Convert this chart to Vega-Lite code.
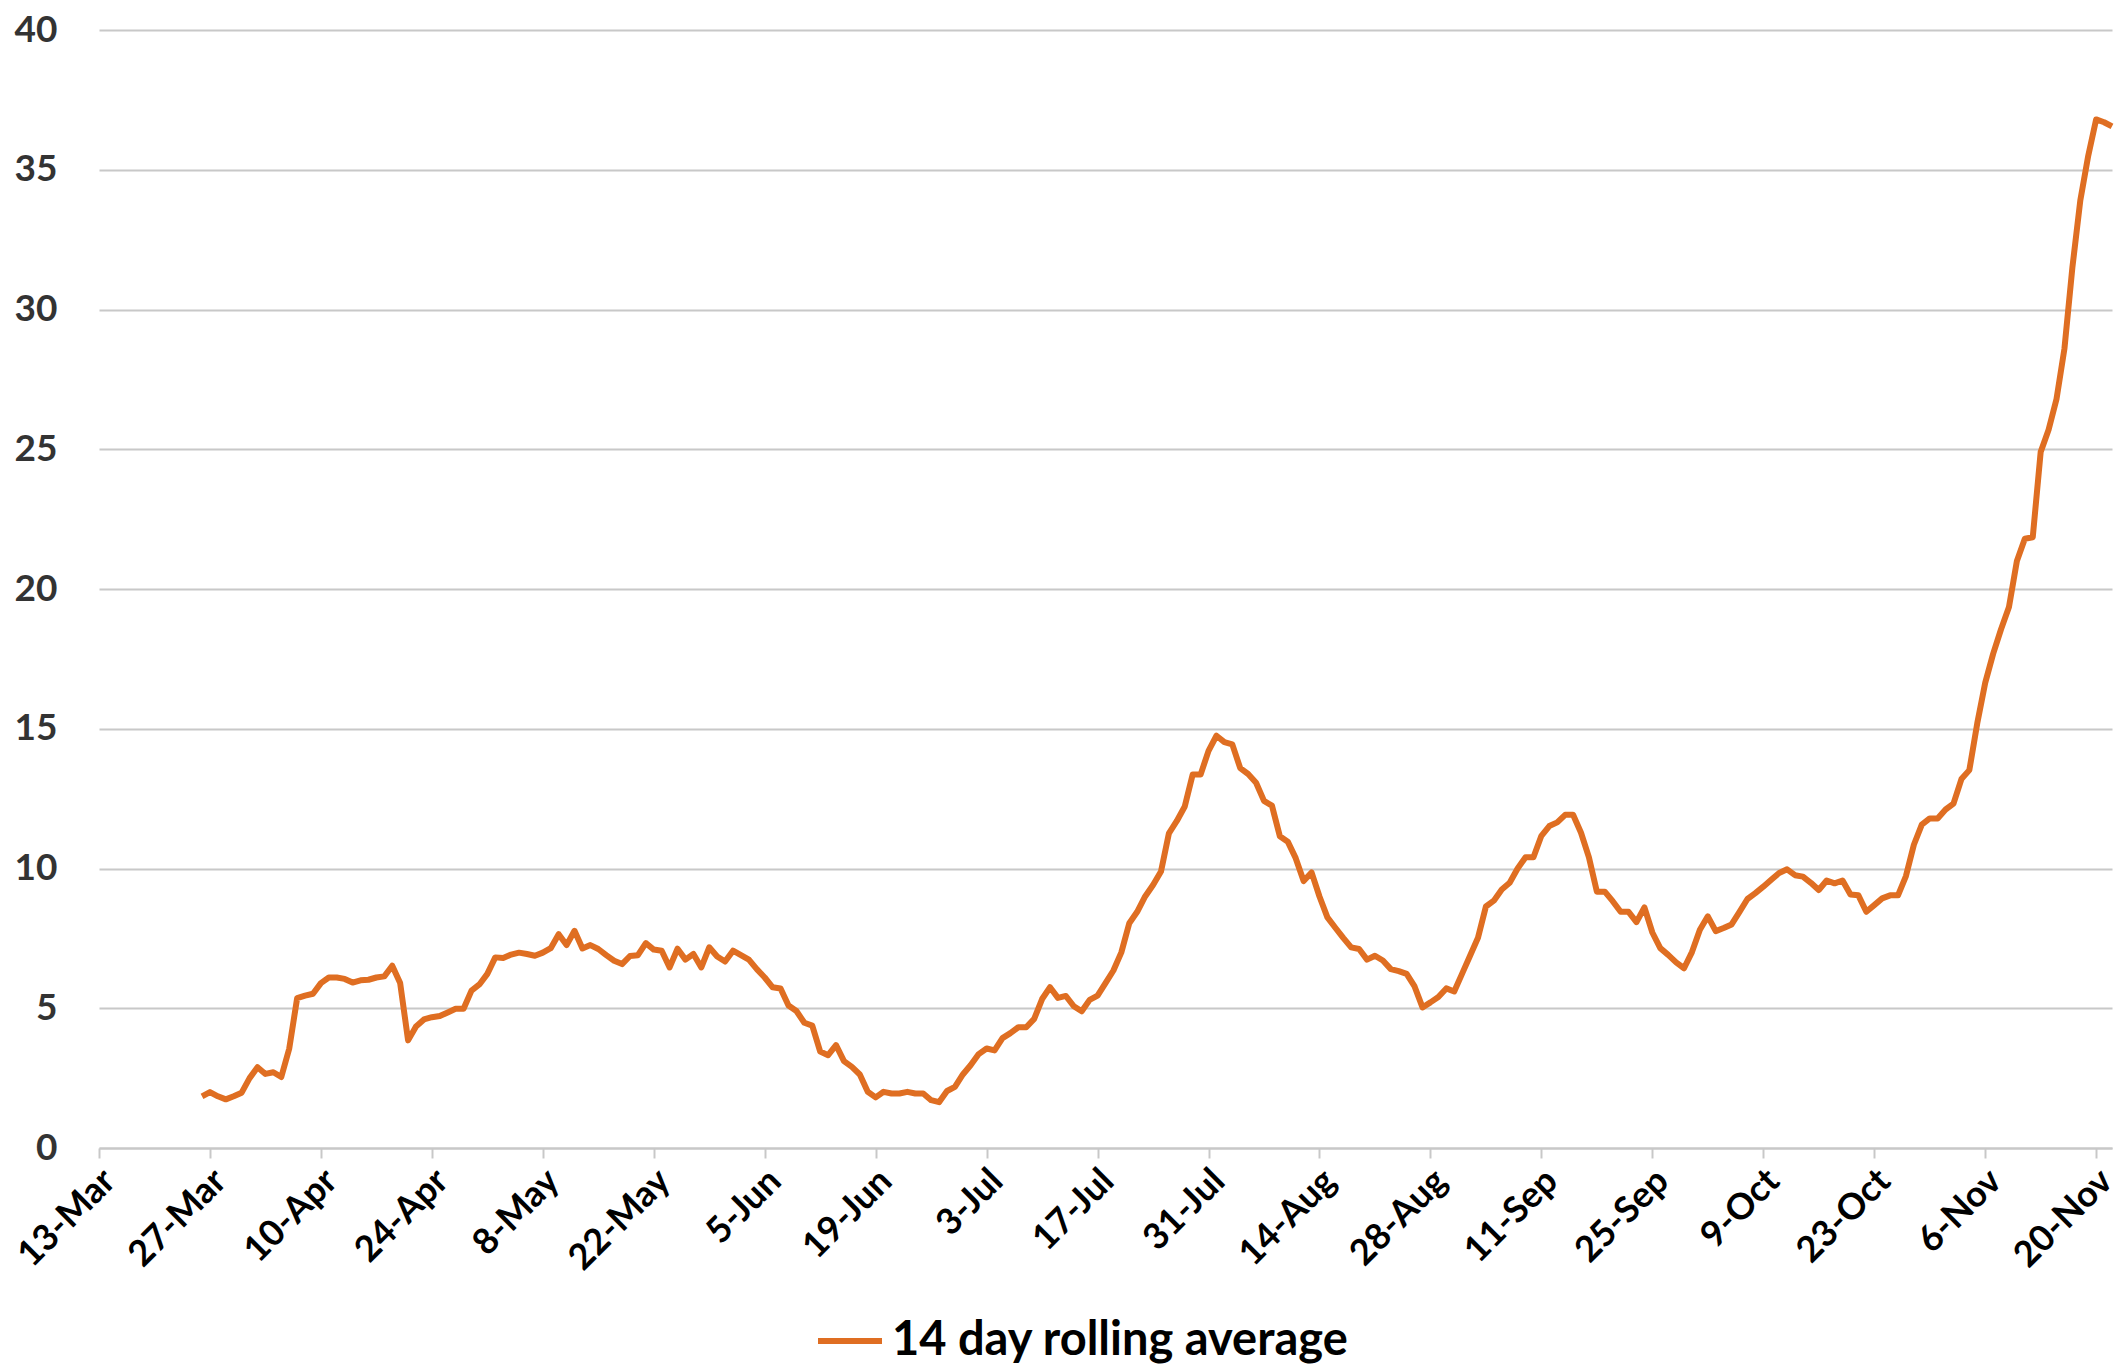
{
  "$schema": "https://vega.github.io/schema/vega-lite/v6.json",
  "width": 2013,
  "height": 1118,
  "autosize": {"type": "none"},
  "padding": {"left": 99, "top": 30, "right": 8, "bottom": 224},
  "background": "white",
  "config": {"view": {"stroke": null}, "font": "Lato"},
  "data": {
    "format": {"parse": {"date": "date:'%Y-%m-%d'"}},
    "values": [
      {"date": "2020-03-26", "value": 1.85},
      {"date": "2020-03-27", "value": 2.0},
      {"date": "2020-03-28", "value": 1.85},
      {"date": "2020-03-29", "value": 1.74},
      {"date": "2020-03-30", "value": 1.85},
      {"date": "2020-03-31", "value": 1.98},
      {"date": "2020-04-01", "value": 2.5},
      {"date": "2020-04-02", "value": 2.89},
      {"date": "2020-04-03", "value": 2.65},
      {"date": "2020-04-04", "value": 2.71},
      {"date": "2020-04-05", "value": 2.54},
      {"date": "2020-04-06", "value": 3.55},
      {"date": "2020-04-07", "value": 5.36},
      {"date": "2020-04-08", "value": 5.45},
      {"date": "2020-04-09", "value": 5.52},
      {"date": "2020-04-10", "value": 5.9},
      {"date": "2020-04-11", "value": 6.1},
      {"date": "2020-04-12", "value": 6.1},
      {"date": "2020-04-13", "value": 6.05},
      {"date": "2020-04-14", "value": 5.92},
      {"date": "2020-04-15", "value": 6.0},
      {"date": "2020-04-16", "value": 6.02},
      {"date": "2020-04-17", "value": 6.1},
      {"date": "2020-04-18", "value": 6.14},
      {"date": "2020-04-19", "value": 6.52},
      {"date": "2020-04-20", "value": 5.9},
      {"date": "2020-04-21", "value": 3.85},
      {"date": "2020-04-22", "value": 4.35},
      {"date": "2020-04-23", "value": 4.6},
      {"date": "2020-04-24", "value": 4.68},
      {"date": "2020-04-25", "value": 4.72},
      {"date": "2020-04-26", "value": 4.85},
      {"date": "2020-04-27", "value": 4.98},
      {"date": "2020-04-28", "value": 4.98},
      {"date": "2020-04-29", "value": 5.63},
      {"date": "2020-04-30", "value": 5.85},
      {"date": "2020-05-01", "value": 6.23},
      {"date": "2020-05-02", "value": 6.82},
      {"date": "2020-05-03", "value": 6.8},
      {"date": "2020-05-04", "value": 6.92},
      {"date": "2020-05-05", "value": 6.99},
      {"date": "2020-05-06", "value": 6.94},
      {"date": "2020-05-07", "value": 6.88},
      {"date": "2020-05-08", "value": 6.99},
      {"date": "2020-05-09", "value": 7.15},
      {"date": "2020-05-10", "value": 7.65},
      {"date": "2020-05-11", "value": 7.26},
      {"date": "2020-05-12", "value": 7.77},
      {"date": "2020-05-13", "value": 7.14},
      {"date": "2020-05-14", "value": 7.26},
      {"date": "2020-05-15", "value": 7.12},
      {"date": "2020-05-16", "value": 6.9},
      {"date": "2020-05-17", "value": 6.7},
      {"date": "2020-05-18", "value": 6.58},
      {"date": "2020-05-19", "value": 6.87},
      {"date": "2020-05-20", "value": 6.9},
      {"date": "2020-05-21", "value": 7.33},
      {"date": "2020-05-22", "value": 7.1},
      {"date": "2020-05-23", "value": 7.06},
      {"date": "2020-05-24", "value": 6.46},
      {"date": "2020-05-25", "value": 7.13},
      {"date": "2020-05-26", "value": 6.74},
      {"date": "2020-05-27", "value": 6.94},
      {"date": "2020-05-28", "value": 6.46},
      {"date": "2020-05-29", "value": 7.18},
      {"date": "2020-05-30", "value": 6.85},
      {"date": "2020-05-31", "value": 6.67},
      {"date": "2020-06-01", "value": 7.06},
      {"date": "2020-06-02", "value": 6.9},
      {"date": "2020-06-03", "value": 6.74},
      {"date": "2020-06-04", "value": 6.4},
      {"date": "2020-06-05", "value": 6.1},
      {"date": "2020-06-06", "value": 5.75},
      {"date": "2020-06-07", "value": 5.71},
      {"date": "2020-06-08", "value": 5.1},
      {"date": "2020-06-09", "value": 4.9},
      {"date": "2020-06-10", "value": 4.48},
      {"date": "2020-06-11", "value": 4.38},
      {"date": "2020-06-12", "value": 3.45},
      {"date": "2020-06-13", "value": 3.32},
      {"date": "2020-06-14", "value": 3.68},
      {"date": "2020-06-15", "value": 3.11},
      {"date": "2020-06-16", "value": 2.9},
      {"date": "2020-06-17", "value": 2.63},
      {"date": "2020-06-18", "value": 2.01},
      {"date": "2020-06-19", "value": 1.81},
      {"date": "2020-06-20", "value": 2.01},
      {"date": "2020-06-21", "value": 1.95},
      {"date": "2020-06-22", "value": 1.95},
      {"date": "2020-06-23", "value": 2.01},
      {"date": "2020-06-24", "value": 1.95},
      {"date": "2020-06-25", "value": 1.95},
      {"date": "2020-06-26", "value": 1.71},
      {"date": "2020-06-27", "value": 1.64},
      {"date": "2020-06-28", "value": 2.04},
      {"date": "2020-06-29", "value": 2.19},
      {"date": "2020-06-30", "value": 2.63},
      {"date": "2020-07-01", "value": 2.97},
      {"date": "2020-07-02", "value": 3.36},
      {"date": "2020-07-03", "value": 3.56},
      {"date": "2020-07-04", "value": 3.49},
      {"date": "2020-07-05", "value": 3.93},
      {"date": "2020-07-06", "value": 4.11},
      {"date": "2020-07-07", "value": 4.32},
      {"date": "2020-07-08", "value": 4.32},
      {"date": "2020-07-09", "value": 4.62},
      {"date": "2020-07-10", "value": 5.33},
      {"date": "2020-07-11", "value": 5.75},
      {"date": "2020-07-12", "value": 5.37},
      {"date": "2020-07-13", "value": 5.44},
      {"date": "2020-07-14", "value": 5.07},
      {"date": "2020-07-15", "value": 4.89},
      {"date": "2020-07-16", "value": 5.3},
      {"date": "2020-07-17", "value": 5.45},
      {"date": "2020-07-18", "value": 5.9},
      {"date": "2020-07-19", "value": 6.35},
      {"date": "2020-07-20", "value": 7.0},
      {"date": "2020-07-21", "value": 8.04},
      {"date": "2020-07-22", "value": 8.45},
      {"date": "2020-07-23", "value": 9.0},
      {"date": "2020-07-24", "value": 9.41},
      {"date": "2020-07-25", "value": 9.89},
      {"date": "2020-07-26", "value": 11.26},
      {"date": "2020-07-27", "value": 11.7},
      {"date": "2020-07-28", "value": 12.22},
      {"date": "2020-07-29", "value": 13.36},
      {"date": "2020-07-30", "value": 13.36},
      {"date": "2020-07-31", "value": 14.21},
      {"date": "2020-08-01", "value": 14.75},
      {"date": "2020-08-02", "value": 14.52},
      {"date": "2020-08-03", "value": 14.44},
      {"date": "2020-08-04", "value": 13.59},
      {"date": "2020-08-05", "value": 13.38},
      {"date": "2020-08-06", "value": 13.07},
      {"date": "2020-08-07", "value": 12.42},
      {"date": "2020-08-08", "value": 12.25},
      {"date": "2020-08-09", "value": 11.15},
      {"date": "2020-08-10", "value": 10.96},
      {"date": "2020-08-11", "value": 10.37},
      {"date": "2020-08-12", "value": 9.55},
      {"date": "2020-08-13", "value": 9.86},
      {"date": "2020-08-14", "value": 9.0},
      {"date": "2020-08-15", "value": 8.25},
      {"date": "2020-08-16", "value": 7.88},
      {"date": "2020-08-17", "value": 7.52},
      {"date": "2020-08-18", "value": 7.18},
      {"date": "2020-08-19", "value": 7.12},
      {"date": "2020-08-20", "value": 6.74},
      {"date": "2020-08-21", "value": 6.88},
      {"date": "2020-08-22", "value": 6.71},
      {"date": "2020-08-23", "value": 6.4},
      {"date": "2020-08-24", "value": 6.33},
      {"date": "2020-08-25", "value": 6.23},
      {"date": "2020-08-26", "value": 5.78},
      {"date": "2020-08-27", "value": 5.03},
      {"date": "2020-08-28", "value": 5.21},
      {"date": "2020-08-29", "value": 5.4},
      {"date": "2020-08-30", "value": 5.71},
      {"date": "2020-08-31", "value": 5.6},
      {"date": "2020-09-01", "value": 6.24},
      {"date": "2020-09-02", "value": 6.88},
      {"date": "2020-09-03", "value": 7.52},
      {"date": "2020-09-04", "value": 8.64},
      {"date": "2020-09-05", "value": 8.85},
      {"date": "2020-09-06", "value": 9.25},
      {"date": "2020-09-07", "value": 9.49},
      {"date": "2020-09-08", "value": 10.0},
      {"date": "2020-09-09", "value": 10.4},
      {"date": "2020-09-10", "value": 10.4},
      {"date": "2020-09-11", "value": 11.17},
      {"date": "2020-09-12", "value": 11.52},
      {"date": "2020-09-13", "value": 11.65},
      {"date": "2020-09-14", "value": 11.92},
      {"date": "2020-09-15", "value": 11.92},
      {"date": "2020-09-16", "value": 11.28},
      {"date": "2020-09-17", "value": 10.4},
      {"date": "2020-09-18", "value": 9.17},
      {"date": "2020-09-19", "value": 9.17},
      {"date": "2020-09-20", "value": 8.83},
      {"date": "2020-09-21", "value": 8.45},
      {"date": "2020-09-22", "value": 8.45},
      {"date": "2020-09-23", "value": 8.08},
      {"date": "2020-09-24", "value": 8.61},
      {"date": "2020-09-25", "value": 7.71},
      {"date": "2020-09-26", "value": 7.15},
      {"date": "2020-09-27", "value": 6.91},
      {"date": "2020-09-28", "value": 6.64},
      {"date": "2020-09-29", "value": 6.43},
      {"date": "2020-09-30", "value": 7.01},
      {"date": "2020-10-01", "value": 7.81},
      {"date": "2020-10-02", "value": 8.29},
      {"date": "2020-10-03", "value": 7.76},
      {"date": "2020-10-04", "value": 7.87},
      {"date": "2020-10-05", "value": 8.0},
      {"date": "2020-10-06", "value": 8.45},
      {"date": "2020-10-07", "value": 8.91},
      {"date": "2020-10-08", "value": 9.12},
      {"date": "2020-10-09", "value": 9.35},
      {"date": "2020-10-10", "value": 9.6},
      {"date": "2020-10-11", "value": 9.84},
      {"date": "2020-10-12", "value": 9.97},
      {"date": "2020-10-13", "value": 9.76},
      {"date": "2020-10-14", "value": 9.71},
      {"date": "2020-10-15", "value": 9.49},
      {"date": "2020-10-16", "value": 9.23},
      {"date": "2020-10-17", "value": 9.57},
      {"date": "2020-10-18", "value": 9.47},
      {"date": "2020-10-19", "value": 9.57},
      {"date": "2020-10-20", "value": 9.07},
      {"date": "2020-10-21", "value": 9.04},
      {"date": "2020-10-22", "value": 8.45},
      {"date": "2020-10-23", "value": 8.69},
      {"date": "2020-10-24", "value": 8.93},
      {"date": "2020-10-25", "value": 9.04},
      {"date": "2020-10-26", "value": 9.04},
      {"date": "2020-10-27", "value": 9.73},
      {"date": "2020-10-28", "value": 10.85},
      {"date": "2020-10-29", "value": 11.57},
      {"date": "2020-10-30", "value": 11.79},
      {"date": "2020-10-31", "value": 11.79},
      {"date": "2020-11-01", "value": 12.11},
      {"date": "2020-11-02", "value": 12.32},
      {"date": "2020-11-03", "value": 13.2},
      {"date": "2020-11-04", "value": 13.52},
      {"date": "2020-11-05", "value": 15.2},
      {"date": "2020-11-06", "value": 16.64},
      {"date": "2020-11-07", "value": 17.68},
      {"date": "2020-11-08", "value": 18.56},
      {"date": "2020-11-09", "value": 19.36},
      {"date": "2020-11-10", "value": 21.0},
      {"date": "2020-11-11", "value": 21.8},
      {"date": "2020-11-12", "value": 21.85},
      {"date": "2020-11-13", "value": 24.9},
      {"date": "2020-11-14", "value": 25.7},
      {"date": "2020-11-15", "value": 26.8},
      {"date": "2020-11-16", "value": 28.6},
      {"date": "2020-11-17", "value": 31.5},
      {"date": "2020-11-18", "value": 33.9},
      {"date": "2020-11-19", "value": 35.5},
      {"date": "2020-11-20", "value": 36.8},
      {"date": "2020-11-21", "value": 36.7},
      {"date": "2020-11-22", "value": 36.55}
    ]
  },
  "mark": {"type": "line", "strokeWidth": 6, "strokeJoin": "round", "strokeCap": "butt"},
  "encoding": {
    "x": {
      "field": "date",
      "type": "temporal",
      "scale": {"domain": [{"year": 2020, "month": 3, "date": 13}, {"year": 2020, "month": 11, "date": 22}]},
      "axis": {
        "title": null,
        "values": [
          {"year": 2020, "month": 3, "date": 13},
          {"year": 2020, "month": 3, "date": 27},
          {"year": 2020, "month": 4, "date": 10},
          {"year": 2020, "month": 4, "date": 24},
          {"year": 2020, "month": 5, "date": 8},
          {"year": 2020, "month": 5, "date": 22},
          {"year": 2020, "month": 6, "date": 5},
          {"year": 2020, "month": 6, "date": 19},
          {"year": 2020, "month": 7, "date": 3},
          {"year": 2020, "month": 7, "date": 17},
          {"year": 2020, "month": 7, "date": 31},
          {"year": 2020, "month": 8, "date": 14},
          {"year": 2020, "month": 8, "date": 28},
          {"year": 2020, "month": 9, "date": 11},
          {"year": 2020, "month": 9, "date": 25},
          {"year": 2020, "month": 10, "date": 9},
          {"year": 2020, "month": 10, "date": 23},
          {"year": 2020, "month": 11, "date": 6},
          {"year": 2020, "month": 11, "date": 20}
        ],
        "format": "%-d-%b",
        "grid": false,
        "domain": true,
        "domainColor": "#C8C8C8",
        "domainWidth": 2,
        "ticks": true,
        "tickColor": "#C8C8C8",
        "tickWidth": 2,
        "tickSize": 10,
        "labelAngle": -45,
        "labelAlign": "right",
        "labelBaseline": "top",
        "labelFont": "Lato",
        "labelFontWeight": "bold",
        "labelFontSize": 36,
        "labelColor": "#000000",
        "labelPadding": 5,
        "labelOffset": -2,
        "labelOverlap": false,
        "labelFlush": false
      }
    },
    "y": {
      "field": "value",
      "type": "quantitative",
      "scale": {"domain": [0, 40], "nice": false},
      "axis": {
        "title": null,
        "values": [0, 5, 10, 15, 20, 25, 30, 35, 40],
        "domain": false,
        "ticks": false,
        "grid": true,
        "gridColor": "#C8C8C8",
        "gridWidth": 2,
        "labelFont": "Lato",
        "labelFontWeight": "bold",
        "labelFontSize": 37,
        "labelColor": "#333333",
        "labelPadding": 42
      }
    },
    "color": {
      "datum": "14 day rolling average",
      "type": "nominal",
      "scale": {"range": ["#DF6E22"]},
      "legend": {
        "title": null,
        "orient": "none",
        "legendX": 716,
        "legendY": 1276,
        "padding": 0,
        "symbolType": "stroke",
        "symbolSize": 4096,
        "symbolStrokeWidth": 6,
        "labelFont": "Lato",
        "labelFontWeight": "bold",
        "labelFontSize": 47,
        "labelLimit": 0,
        "labelColor": "#000000",
        "labelOffset": 7
      }
    }
  }
}
